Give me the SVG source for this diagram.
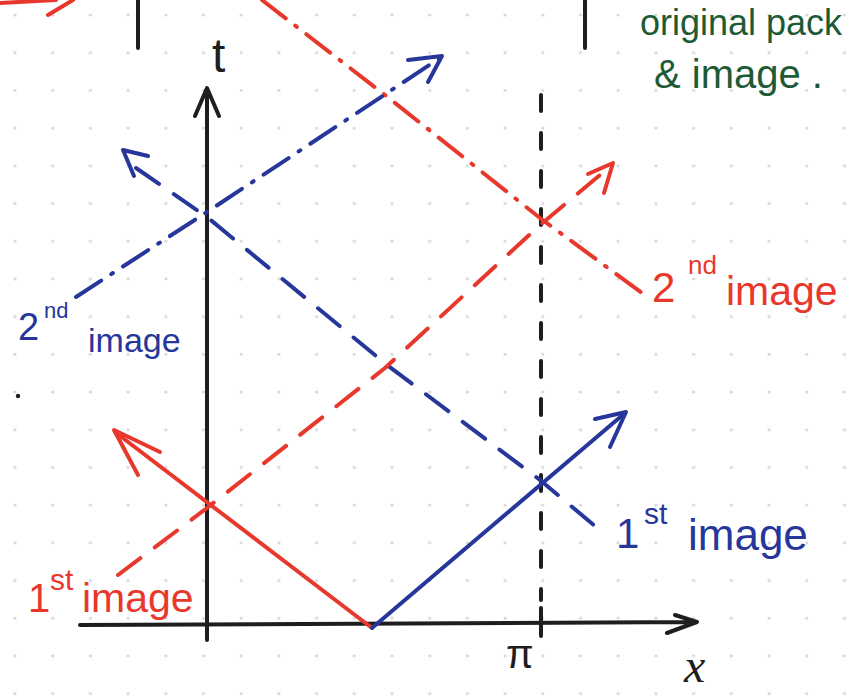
<svg xmlns="http://www.w3.org/2000/svg" width="850" height="697" viewBox="0 0 850 697">
<defs>
<pattern id="dots" patternUnits="userSpaceOnUse" x="-3.85" y="-3.85" width="37.7" height="37.7">
<circle cx="18.85" cy="18.85" r="1.6" fill="#d6d6d6"/>
</pattern>
<style>
.k{stroke:#1e1e1e;fill:none;stroke-width:4;stroke-linecap:round;stroke-linejoin:round}
.r{stroke:#e8382c;fill:none;stroke-width:4;stroke-linecap:round;stroke-linejoin:round}
.b{stroke:#27369a;fill:none;stroke-width:4;stroke-linecap:round;stroke-linejoin:round}
.dash{stroke-dasharray:28 18}
.dd{stroke-dasharray:30 12 2 12}
.vd{stroke-dasharray:16 22}
.t{font-family:"Liberation Sans","DejaVu Sans",sans-serif}
.tr{fill:#e8382c}.tb{fill:#27369a}.tg{fill:#1d5a36}.tk{fill:#1e1e1e}
</style>
</defs>
<rect width="850" height="697" fill="#ffffff"/>
<rect width="850" height="697" fill="url(#dots)"/>

<g id="fragments">
<path class="k" d="M138 0 V48"/>
<path class="k" d="M585 0 V48"/>
<path class="r" d="M0 3 L56 0 M48 15 L73 0"/>
<circle cx="18" cy="396" r="2.2" fill="#1e1e1e"/>
</g>

<g id="axes">
<path class="k" d="M207 640 V90 M195 116 L207 88 L219 116"/>
<path class="k" d="M80 625 L696 622 M675 615 L697 622 L667 633"/>
<path class="k" d="M541 608 V636"/>
<path class="k vd" d="M541 95 V600"/>
<text class="t tk" x="212" y="72" font-size="48">t</text>
<text class="t tk" x="506" y="668" font-size="40">π</text>
<text x="684" y="682" font-size="48" font-style="italic" font-family="Liberation Serif, serif" fill="#1e1e1e">x</text>
</g>

<g id="connectors">
<path class="r dd" d="M262 0 L385 95 L540 218 L642 293"/>
<path class="b dd" d="M76 297 L207 212 L440 58"/>
<path class="b" d="M408 60 L442 56 L428 82"/>
<path class="b dash" d="M136 168 L207 217 L387 365 L540 480 L602 532"/>
<path class="b" d="M148 156 L123 150 L134 176"/>
<path class="r dash" d="M118 575 L207 508 L385 368 L540 225 L606 170"/>
<path class="r" d="M588 174 L613 163 L604 193"/>
<path class="r" d="M372 628 L115 432"/>
<path class="r" d="M160 452 L114 430 L138 475"/>
<path class="b" d="M372 628 L625 413"/>
<path class="b" d="M595 419 L626 412 L610 447"/>
</g>

<g id="label-blue-2nd">
<text class="t tb" x="18" y="340" font-size="38">2</text>
<text class="t tb" x="44" y="318" font-size="22">nd</text>
<text class="t tb" x="88" y="352" font-size="34">image</text>
</g>
<g id="label-red-2nd">
<text class="t tr" x="652" y="302" font-size="42">2</text>
<text class="t tr" x="688" y="274" font-size="26">nd</text>
<text class="t tr" x="726" y="305" font-size="41">image</text>
</g>
<g id="label-blue-1st">
<text class="t tb" x="616" y="548" font-size="42">1</text>
<text class="t tb" x="644" y="524" font-size="30">st</text>
<text class="t tb" x="688" y="550" font-size="44">image</text>
</g>
<g id="label-red-1st">
<text class="t tr" x="28" y="612" font-size="40">1</text>
<text class="t tr" x="50" y="590" font-size="30">st</text>
<text class="t tr" x="82" y="612" font-size="41">image</text>
</g>
<g id="label-green">
<text class="t tg" x="640" y="35" font-size="36">original pack</text>
<text class="t tg" x="654" y="88" font-size="40">&amp; image .</text>
</g>
</svg>
